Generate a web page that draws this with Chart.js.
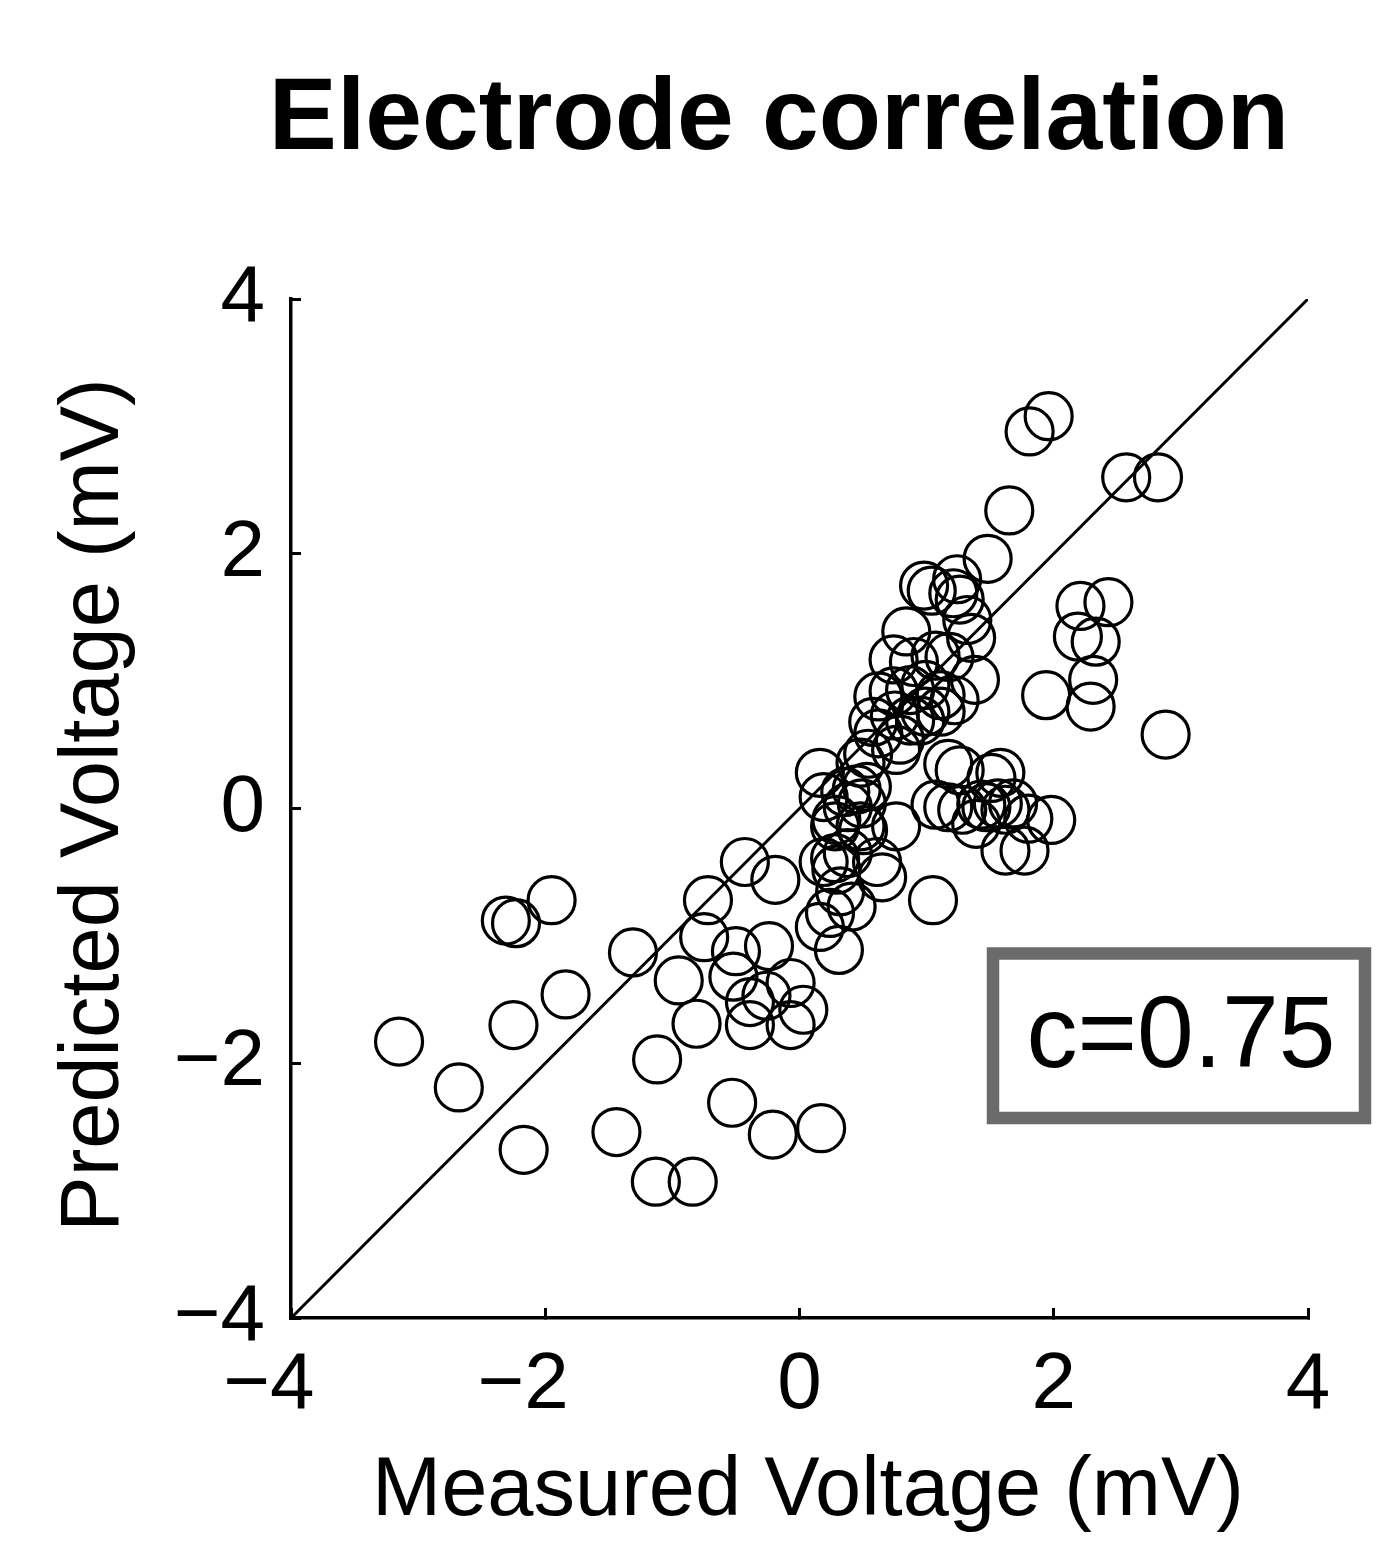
<!DOCTYPE html>
<html>
<head>
<meta charset="utf-8">
<title>Electrode correlation</title>
<script src="https://cdn.jsdelivr.net/npm/chart.js@4.4.1/dist/chart.umd.min.js"></script>
<style>
  html, body { margin: 0; padding: 0; background: #fff; }
  #wrap { width: 1383px; height: 1567px; }
</style>
</head>
<body>
<div id="wrap"><canvas id="chart" width="1383" height="1567"></canvas></div>
<script>
// values (mV)
const measured = [
    -3.15, -2.68, -2.31, -2.23, -1.95, -2.25, -1.84, -2.17, -1.31, -0.72,
    -0.43, -0.19, -0.75, -0.95, -0.81, -1.12, -0.50, -0.52, -0.24, -0.39,
    -0.26, -0.07, 0.03, -0.39, -0.07, -0.53, -1.44, -0.21, 0.17, -1.13,
    -0.84,
    0.19, 0.29, 0.24, 0.16, 0.31, 0.28, 0.48, 0.76, 0.28, 0.38, 0.61, 0.65, 0.32, 0.41, 1.05,
    0.16, 0.19, 0.36, 0.45, 0.53, 0.38, 0.49, 0.29, 0.50,
    0.54, 0.62, 0.48, 0.79, 0.76, 0.58, 0.75, 0.87, 0.95, 0.99, 1.11,
    0.62, 0.74, 0.87, 0.99, 1.11, 1.22, 0.74, 0.90, 1.07, 1.18, 1.38,
    0.84, 1.35, 1.32, 1.26, 1.21, 1.24, 0.98, 1.04, 1.48, 1.65, 1.81, 1.96, 2.57, 2.82,
    2.21, 2.43, 2.19, 2.33, 2.31, 2.29, 1.94, 2.88,
    1.17, 1.26, 1.51, 1.58, 1.07, 1.17, 1.28, 1.43, 1.56, 1.62, 1.80, 1.98,
    1.62, 1.77, 1.39, 1.47, 1.68
];
const predicted = [
    -1.83, -2.19, -0.88, -0.90, -0.72, -1.70, -1.46, -2.68, -1.13, -0.72,
    -0.42, -0.56, -1.01, -1.35, -1.69, -1.97, -1.12, -1.32, -1.08, -1.52,
    -1.47, -1.37, -1.58, -1.70, -1.70, -2.31, -2.54, -2.56, -2.51, -2.93,
    -2.93,
    -0.42, -0.48, -0.82, -0.93, -1.11, -0.14, -0.14, -0.14, -0.39, -0.35, -0.42, -0.54, -0.65, -0.77, -0.72,
    0.28, 0.09, 0.13, 0.15, 0.17, 0.01, 0.04, -0.09, -0.17,
    0.43, 0.59, 0.36, 0.54, 0.46, 0.68, 0.73, 0.69, 0.69, 0.76, 0.76,
    0.88, 0.92, 0.93, 0.97, 0.89, 0.85, 1.17, 1.15, 1.20, 1.19, 1.01,
    1.39, 1.34, 1.48, 1.64, 1.69, 1.80, 1.75, 1.71, 1.96, 2.34, 2.96, 3.08, 2.60, 2.60,
    1.59, 1.62, 1.35, 1.31, 1.01, 0.80, 0.89, 0.58,
    0.35, 0.30, 0.24, 0.28, 0.03, 0.01, -0.01, 0.03, 0.04, -0.01, -0.08, -0.09,
    -0.33, -0.33, -0.12, 0.01, 0.04
];
const identityLine = [-4, 4];
const axisTicks = [-4, -2, 0, 2, 4];
const correlationLabel = 'c=0.75';

const FONT = '"Liberation Sans", Arial, Helvetica, sans-serif';

const points = measured.map((x, i) => ({ x: x, y: predicted[i] }));
const diagonal = identityLine.map(v => ({ x: v, y: v }));

// title, axis titles and the correlation box
const textPlugin = {
    id: 'figureText',
    afterDraw(chart) {
        const ctx = chart.ctx;
        ctx.save();
        ctx.fillStyle = '#000';
        ctx.textAlign = 'center';
        ctx.textBaseline = 'alphabetic';

        ctx.font = 'bold 102px ' + FONT;
        ctx.fillText('Electrode correlation', 779, 149);

        ctx.font = '83px ' + FONT;
        ctx.fillText('Measured Voltage (mV)', 808, 1515);

        ctx.save();
        ctx.translate(118, 805);
        ctx.rotate(-Math.PI / 2);
        ctx.fillText('Predicted Voltage (mV)', 0, 0);
        ctx.restore();

        // correlation box
        ctx.fillStyle = '#fff';
        ctx.fillRect(993, 953.5, 372, 164.5);
        ctx.strokeStyle = '#6b6b6b';
        ctx.lineWidth = 12.5;
        ctx.strokeRect(993, 953.5, 372, 164.5);
        ctx.fillStyle = '#000';
        ctx.font = '102px ' + FONT;
        ctx.fillText(correlationLabel, 1181, 1067);
        ctx.restore();
    }
};

const yTickLabel = v => String(v).replace('-', '\u2212');
// on the x axis the digit sits on the tick and the minus hangs to its left
const xTickLabel = v => v < 0 ? yTickLabel(v) + '  ' : String(v);

new Chart(document.getElementById('chart'), {
    type: 'scatter',
    data: {
        datasets: [{
            type: 'line',
            data: diagonal,
            borderColor: '#000',
            borderWidth: 3,
            pointRadius: 0,
            fill: false
        }, {
            data: points,
            pointStyle: 'circle',
            pointRadius: 23.5,
            borderWidth: 3.2,
            borderColor: '#000',
            backgroundColor: 'rgba(0,0,0,0)'
        }]
    },
    options: {
        responsive: false,
        animation: false,
        events: [],
        layout: { padding: { top: 299, right: 75, left: 0, bottom: 0 } },
        plugins: {
            legend: { display: false },
            tooltip: { enabled: false }
        },
        scales: {
            x: {
                type: 'linear',
                min: -4,
                max: 4,
                afterFit: scale => { scale.height = 249; },
                afterBuildTicks: scale => { scale.ticks = axisTicks.map(v => ({ value: v })); },
                border: { display: true, color: '#000', width: 3.5 },
                grid: { drawOnChartArea: false, drawTicks: true, tickLength: -10, color: '#000', lineWidth: 3 },
                ticks: {
                    color: '#000',
                    font: { family: FONT, size: 80 },
                    padding: 30,
                    maxRotation: 0,
                    autoSkip: false,
                    callback: xTickLabel
                }
            },
            y: {
                type: 'linear',
                min: -4,
                max: 4,
                afterFit: scale => { scale.width = 291; },
                afterBuildTicks: scale => { scale.ticks = axisTicks.map(v => ({ value: v })); },
                border: { display: true, color: '#000', width: 3.5 },
                grid: { drawOnChartArea: false, drawTicks: true, tickLength: -10, color: '#000', lineWidth: 3 },
                ticks: {
                    color: '#000',
                    font: { family: FONT, size: 80 },
                    padding: 36,
                    autoSkip: false,
                    callback: yTickLabel
                }
            }
        }
    },
    plugins: [textPlugin]
});
</script>
</body>
</html>
